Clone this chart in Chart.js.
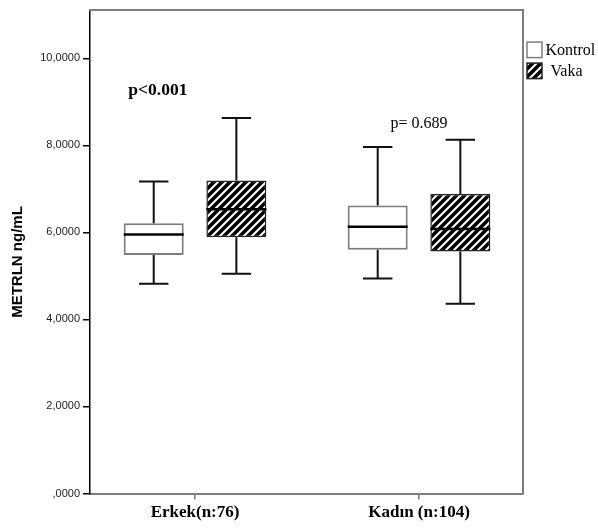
<!DOCTYPE html>
<html><head><meta charset="utf-8">
<script src="https://cdn.jsdelivr.net/npm/chart.js@4"></script>
<style>html,body{margin:0;padding:0;background:#fff;overflow:hidden;}</style>
</head><body>
<canvas id="c" width="598" height="530"></canvas>
<script>
// ---- data ----
const categories = ['Erkek(n:76)', 'Kadın (n:104)'];
const seriesNames = ['Kontrol', 'Vaka'];
const kontrolMin    = [4.82, 4.94];
const kontrolQ1     = [5.48, 5.60];
const kontrolMedian = [5.95, 6.13];
const kontrolQ3     = [6.21, 6.62];
const kontrolMax    = [7.17, 7.96];
const vakaMin    = [5.05, 4.36];
const vakaQ1     = [5.89, 5.56];
const vakaMedian = [6.53, 6.08];
const vakaQ3     = [7.19, 6.88];
const vakaMax    = [8.63, 8.13];
const yTickValues = [0, 2, 4, 6, 8, 10];
const yTickLabels = [',0000', '2,0000', '4,0000', '6,0000', '8,0000', '10,0000'];
const pLabels = ['p<0.001', 'p= 0.689'];
const pLabelX = [0.834, 2.0];
const pLabelY = [9.25, 8.5];

// ---- styles ----
const canvas = document.getElementById('c');
const mainCtx = canvas.getContext('2d');
function makeHatch() {
  const s = 8, c = document.createElement('canvas');
  c.width = s; c.height = s;
  const g = c.getContext('2d');
  g.fillStyle = '#000'; g.fillRect(0, 0, s, s);
  g.strokeStyle = '#fff'; g.lineWidth = 2.1;
  g.beginPath();
  g.moveTo(0, s); g.lineTo(s, 0);
  g.moveTo(-1, 1); g.lineTo(1, -1);
  g.moveTo(s - 1, s + 1); g.lineTo(s + 1, s - 1);
  g.stroke();
  return mainCtx.createPattern(c, 'repeat');
}
const hatch = makeHatch();

const stats = [
  {min: kontrolMin, q1: kontrolQ1, med: kontrolMedian, q3: kontrolQ3, max: kontrolMax},
  {min: vakaMin, q1: vakaQ1, med: vakaMedian, q3: vakaQ3, max: vakaMax}
];

const boxPlugin = {
  id: 'boxWhiskers',
  afterDatasetsDraw(chart) {
    const ctx = chart.ctx, ys = chart.scales.y;
    chart.data.datasets.forEach((ds, di) => {
      const st = stats[di];
      chart.getDatasetMeta(di).data.forEach((bar, i) => {
        const x = bar.x, half = bar.width / 2, cap = bar.width * 0.245;
        const pMin = ys.getPixelForValue(st.min[i]);
        const pQ1 = ys.getPixelForValue(st.q1[i]);
        const pMed = ys.getPixelForValue(st.med[i]);
        const pQ3 = ys.getPixelForValue(st.q3[i]);
        const pMax = ys.getPixelForValue(st.max[i]);
        ctx.save();
        ctx.strokeStyle = '#111';
        ctx.lineWidth = 2;
        ctx.beginPath();
        ctx.moveTo(x, pQ3); ctx.lineTo(x, pMax);
        ctx.moveTo(x, pQ1); ctx.lineTo(x, pMin);
        ctx.moveTo(x - cap, pMax); ctx.lineTo(x + cap, pMax);
        ctx.moveTo(x - cap, pMin); ctx.lineTo(x + cap, pMin);
        ctx.stroke();
        ctx.strokeStyle = '#000';
        ctx.lineWidth = 2.5;
        ctx.beginPath();
        ctx.moveTo(x - half, pMed); ctx.lineTo(x + half, pMed);
        ctx.stroke();
        ctx.restore();
      });
    });
    // p-value annotations
    const xs = chart.scales.x;
    ctx.save();
    ctx.fillStyle = '#000';
    ctx.textAlign = 'center';
    ctx.textBaseline = 'middle';
    pLabels.forEach((t, i) => {
      ctx.font = (i === 0 ? 'bold 17.5px ' : '16px ') + '"Liberation Serif", "Times New Roman", serif';
      ctx.fillText(t, xs.getPixelForValue(pLabelX[i]), ys.getPixelForValue(pLabelY[i]));
    });
    ctx.restore();
  },
  afterDraw(chart) {
    const ctx = chart.ctx, a = chart.chartArea;
    ctx.save();
    ctx.font = '16px "Liberation Serif", "Times New Roman", serif';
    ctx.textBaseline = 'middle';
    ctx.textAlign = 'left';
    chart.data.datasets.forEach((ds, i) => {
      const bx = a.right + 4.5, by = a.top + 32.5 + i * 21, bw = 15, bh = 15.5;
      ctx.fillStyle = ds.backgroundColor;
      ctx.fillRect(bx, by, bw, bh);
      ctx.strokeStyle = ds.borderColor;
      ctx.lineWidth = 1.5;
      ctx.strokeRect(bx, by, bw, bh);
      ctx.fillStyle = '#000';
      ctx.fillText(ds.label, bx + bw + 3.5 + (i === 1 ? 5 : 0), by + bh / 2 + 1);
    });
    ctx.restore();
  }
};

const serifBold = {family: '"Liberation Serif", "Times New Roman", serif', size: 17, weight: 'bold'};

new Chart(canvas, {
  type: 'bar',
  data: {
    datasets: [
      {
        label: seriesNames[0],
        data: categories.map((c, i) => ({x: i + 1, y: [kontrolQ1[i], kontrolQ3[i]]})),
        backgroundColor: '#ffffff',
        borderColor: '#7d7d7d',
        borderWidth: 2,
        borderSkipped: false,
        xAxisID: 'x', yAxisID: 'y'
      },
      {
        label: seriesNames[1],
        data: categories.map((c, i) => ({x: i + 1, y: [vakaQ1[i], vakaQ3[i]]})),
        backgroundColor: hatch,
        borderColor: '#222',
        borderWidth: 1.5,
        borderSkipped: false,
        xAxisID: 'x', yAxisID: 'y'
      }
    ]
  },
  options: {
    responsive: false,
    animation: false,
    devicePixelRatio: 1,
    categoryPercentage: 0.738,
    barPercentage: 0.726,
    layout: {padding: {left: 0, right: 75.5, top: 6, bottom: 0}},
    plugins: {legend: {display: false}, tooltip: {enabled: false}},
    scales: {
      x: {
        type: 'linear', position: 'bottom', min: 0.531, max: 2.462, offset: false,
        afterBuildTicks: s => { s.ticks = categories.map((c, i) => ({value: i + 1})); },
        afterFit: s => { s.height = 36.5; },
        grid: {display: true, drawOnChartArea: false, drawTicks: true, tickLength: 6, color: '#777', lineWidth: 1.5, offset: false},
        border: {display: true, color: '#7d7d7d', width: 2},
        ticks: {
          autoSkip: false, maxRotation: 0, minRotation: 0, padding: 3, color: '#000', font: serifBold,
          callback: v => categories[v - 1]
        }
      },
      y: {
        type: 'linear', position: 'left', min: 0, max: 11.12,
        afterBuildTicks: s => { s.ticks = yTickValues.map(v => ({value: v})); },
        afterFit: s => { s.width = 90; },
        grid: {display: true, drawOnChartArea: false, drawTicks: true, tickLength: 7, color: '#000', lineWidth: 1.5},
        border: {display: true, color: '#000', width: 1.5},
        ticks: {
          padding: 3, color: '#222',
          font: {family: '"Liberation Sans", Arial, sans-serif', size: 11},
          callback: v => yTickLabels[yTickValues.indexOf(v)]
        },
        title: {
          display: true, text: 'METRLN ng/mL\u00a0\u00a0\u00a0\u00a0\u00a0', color: '#000',
          font: {family: '"Liberation Sans", Arial, sans-serif', size: 15, weight: 'bold'},
          padding: {top: 9, bottom: 0}
        }
      },
      x2: {
        type: 'linear', position: 'top', display: true,
        afterFit: s => { s.height = 0; },
        grid: {display: false, drawTicks: false},
        ticks: {display: false},
        border: {display: true, color: '#7d7d7d', width: 2}
      },
      y2: {
        type: 'linear', position: 'right', display: true,
        afterFit: s => { s.width = 0; },
        grid: {display: false, drawTicks: false},
        ticks: {display: false},
        border: {display: true, color: '#7d7d7d', width: 2}
      }
    }
  },
  plugins: [boxPlugin]
});
</script>
</body></html>
